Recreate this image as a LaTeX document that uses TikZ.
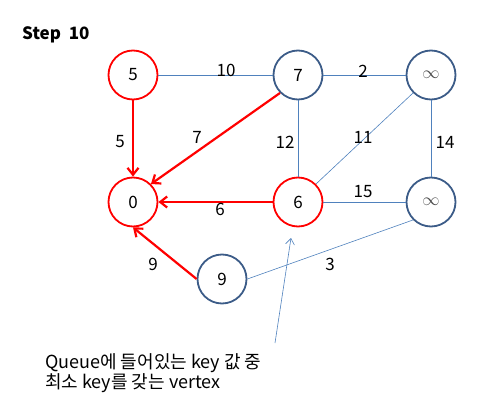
\documentclass[tikz,border=0pt]{standalone}
\usepackage{fontspec}
\setmainfont{Noto Sans CJK KR}
\usetikzlibrary{arrows.meta}
\definecolor{nodeblue}{RGB}{60,92,136}
\definecolor{edgeblue}{RGB}{79,129,189}
\definecolor{myred}{RGB}{255,0,0}
\begin{document}
\begin{tikzpicture}[x=1pt,y=-1pt,
 vtx/.style={circle, draw=nodeblue, line width=1.8pt, fill=white, minimum size=49pt, inner sep=0pt, font=\fontsize{17}{17}\selectfont},
 rvtx/.style={vtx, draw=myred},
 edge/.style={draw=edgeblue, line width=0.9pt},
 tedge/.style={draw=edgeblue, line width=0.6pt},
 redge/.style={draw=myred, line width=2.2pt, -{Straight Barb[length=7pt,width=11pt]}},
 lbl/.style={font=\fontsize{17}{17}\selectfont, inner sep=0pt}]
\useasboundingbox (0,0) rectangle (490,415);
\node[anchor=base west, font=\bfseries\fontsize{17}{17}\selectfont, inner sep=0pt] (title) at (22,39) {Step\ \ 10};
\node[rvtx] (n5) at (133,75) {5};
\node[vtx] (n7) at (298,75) {7};
\node[vtx] (ia) at (431,75) {\textcolor{black!70}{$\infty$}};
\node[rvtx] (n0) at (133,202) {0};
\node[rvtx] (n6) at (298,202) {6};
\node[vtx] (ib) at (431,202) {\textcolor{black!70}{$\infty$}};
\node[vtx] (n9) at (222,279) {9};
% thin edges
\draw[edge] (n5) -- (n7);
\draw[edge] (n7) -- (ia);
\draw[edge] (n7) -- (n6);
\draw[tedge] (ia.south west) -- (n6.north east);
\draw[edge] (ia) -- (ib);
\draw[edge] (n6) -- (ib);
\draw[tedge] (ib.south west) -- (n9.east);
% red tree edges
\draw[redge] (n5) -- (n0);
\draw[redge] (n7.south west) -- (n0.north east);
\draw[redge] (n6) -- (n0);
\draw[redge] (n9.west) -- (n0.south);
% labels
\node[lbl] (l10) at (226,70) {10};
\node[lbl] (l2) at (363,71) {2};
\node[lbl] (l5) at (120,142) {5};
\node[lbl] (l7) at (197,137) {7};
\node[lbl] (l12) at (285,142) {12};
\node[lbl] (l11) at (363,137) {11};
\node[lbl] (l14) at (445,142) {14};
\node[lbl] (l15) at (363,192) {15};
\node[lbl] (l6) at (220,209) {6};
\node[lbl] (l9) at (153,264) {9};
\node[lbl] (l3) at (330,264) {3};
% annotation
\node[anchor=north west, align=left, inner sep=0pt, font=\fontsize{18}{20}\selectfont] (note) at (45,353) {Queue에 들어있는 key 값 중\\최소 key를 갖는 vertex};
\coordinate (as) at (275,343);
\coordinate (ae) at (291,238);
\draw[tedge, -{Straight Barb[length=6pt,width=9pt]}] (as) -- (ae);
\end{tikzpicture}
\end{document}
